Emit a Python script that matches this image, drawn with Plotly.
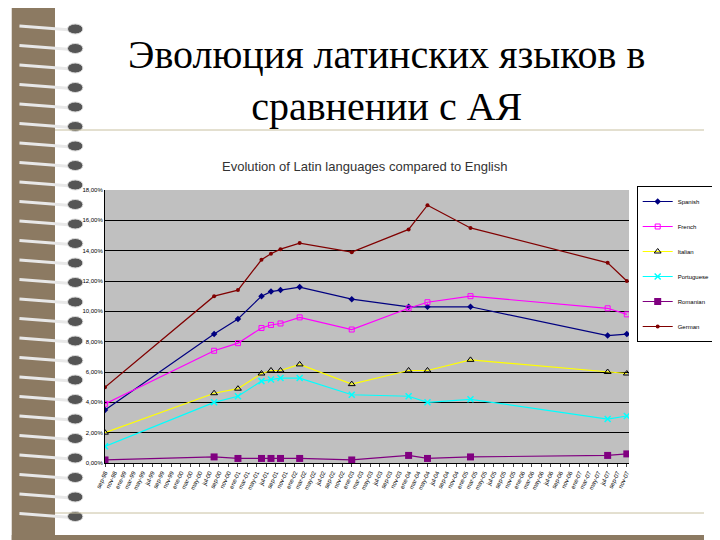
import plotly.graph_objects as go

dates = ["1998-09-01", "2000-08-01", "2001-01-01", "2001-06-01", "2001-08-01", "2001-10-01",
         "2002-02-01", "2003-01-01", "2004-01-01", "2004-05-01", "2005-02-01", "2007-07-01", "2007-11-01"]
spanish = [3.5, 8.5, 9.5, 11.0, 11.3, 11.4, 11.6, 10.8, 10.3, 10.3, 10.3, 8.4, 8.5]
french = [3.9, 7.4, 7.9, 8.9, 9.1, 9.2, 9.6, 8.8, 10.2, 10.6, 11.0, 10.2, 9.8]
italian = [2.0, 4.6, 4.9, 5.9, 6.1, 6.1, 6.5, 5.2, 6.1, 6.1, 6.8, 6.0, 5.9]
portuguese = [1.1, 4.0, 4.4, 5.4, 5.5, 5.6, 5.6, 4.5, 4.4, 4.0, 4.2, 2.9, 3.1]
romanian = [0.2, 0.4, 0.3, 0.3, 0.3, 0.3, 0.3, 0.2, 0.5, 0.3, 0.4, 0.5, 0.6]
german = [5.0, 11.0, 11.4, 13.4, 13.8, 14.1, 14.5, 13.9, 15.4, 17.0, 15.5, 13.2, 12.0]

months_es = ["ene", "feb", "mar", "abr", "may", "jun", "jul", "ago", "sep", "oct", "nov", "dic"]
tick_vals, tick_text = [], []
y, m = 1998, 9
while (y, m) <= (2007, 11):
    tick_vals.append(f"{y}-{m:02d}-01")
    tick_text.append(f"{months_es[m - 1]}-{y % 100:02d}")
    m += 2
    if m > 12:
        m -= 12
        y += 1

series = [
    ("Spanish", spanish, "#000080", dict(symbol="diamond", size=5)),
    ("French", french, "#FF00FF", dict(symbol="square-open", size=5)),
    ("Italian", italian, "#FFFF00", dict(symbol="triangle-up-open", size=6, line=dict(color="black", width=1))),
    ("Portuguese", portuguese, "#00FFFF", dict(symbol="x-thin-open", size=6, line=dict(width=1.5))),
    ("Romanian", romanian, "#800080", dict(symbol="square", size=7)),
    ("German", german, "#800000", dict(symbol="circle", size=4)),
]

fig = go.Figure()
for i, (name, vals, color, mk) in enumerate(series):
    marker = dict(color=color, **mk)
    if name == "Italian":
        marker["color"] = "black"
    if name == "Portuguese":
        marker["line"]["color"] = "#00CCCC"
    fig.add_trace(go.Scatter(x=dates, y=vals, name=name, mode="lines+markers", legendgroup=str(i),
                             line=dict(color=color, width=1.2), marker=marker))


def px(x):
    return (x - 97) / 545


def py(y):
    return (455 - y) / 273


# spiral binding strip
shapes = [dict(type="rect", xref="paper", yref="paper", x0=px(0), x1=px(45), y0=py(540), y1=py(0),
               fillcolor="#8C7A62", line_width=0, layer="below")]
for i in range(26):
    yy = 18 + i * 19.5
    shapes.append(dict(type="line", xref="paper", yref="paper", x0=px(8), x1=px(62),
                       y0=py(yy), y1=py(yy + 4), line=dict(color="#E8E8E8", width=3)))
    shapes.append(dict(type="circle", xref="paper", yref="paper", x0=px(58), x1=px(74),
                       y0=py(yy + 8), y1=py(yy - 2), fillcolor="#555555", line=dict(color="#DDDDDD", width=1)))
shapes.append(dict(type="line", xref="paper", yref="paper", x0=px(45), x1=px(720), y0=py(122), y1=py(122),
                   line=dict(color="#C8C0A0", width=1)))
shapes.append(dict(type="line", xref="paper", yref="paper", x0=px(45), x1=px(720), y0=py(505), y1=py(505),
                   line=dict(color="#C8C0A0", width=1)))
shapes.append(dict(type="rect", xref="paper", yref="paper", x0=px(0), x1=px(720), y0=py(540), y1=py(527),
                   fillcolor="#8C7A62", line_width=0))

fig.update_layout(
    width=720, height=540,
    paper_bgcolor="white", plot_bgcolor="#C0C0C0",
    margin=dict(l=97, r=78, t=182, b=85),
    font=dict(family="Arial, Liberation Sans", size=7, color="black"),
    showlegend=True,
    legend=dict(x=px(650), y=py(178), xanchor="left", yanchor="top", bgcolor="white",
                bordercolor="black", borderwidth=1, font=dict(size=6), itemwidth=30,
                tracegroupgap=6, traceorder="grouped"),
    shapes=shapes,
    annotations=[
        dict(text="Эволюция латинских языков в<br>сравнении с АЯ", xref="paper", yref="paper",
             x=px(390), y=py(22), xanchor="center", yanchor="top", showarrow=False,
             font=dict(family="Liberation Serif", size=40, color="black")),
        dict(text="Evolution of Latin languages compared to English", xref="paper", yref="paper",
             x=px(367), y=py(158), xanchor="center", yanchor="middle", showarrow=False,
             font=dict(family="Arial, Liberation Sans", size=13, color="#333333")),
    ],
    xaxis=dict(type="date", range=["1998-09-01", "2007-11-15"], tickvals=tick_vals, ticktext=tick_text,
               tickangle=-65, ticks="outside", ticklen=3, showgrid=False, showline=True,
               linecolor="black", tickfont=dict(size=6), automargin=False),
    yaxis=dict(range=[0, 18], tickmode="array", tickvals=list(range(0, 19, 2)),
               ticktext=[f"{v},00%" for v in range(0, 19, 2)], showgrid=True,
               gridcolor="black", gridwidth=1, zeroline=False, showline=True, linecolor="black",
               tickfont=dict(size=6), automargin=False),
)
fig.write_html("out.html")
